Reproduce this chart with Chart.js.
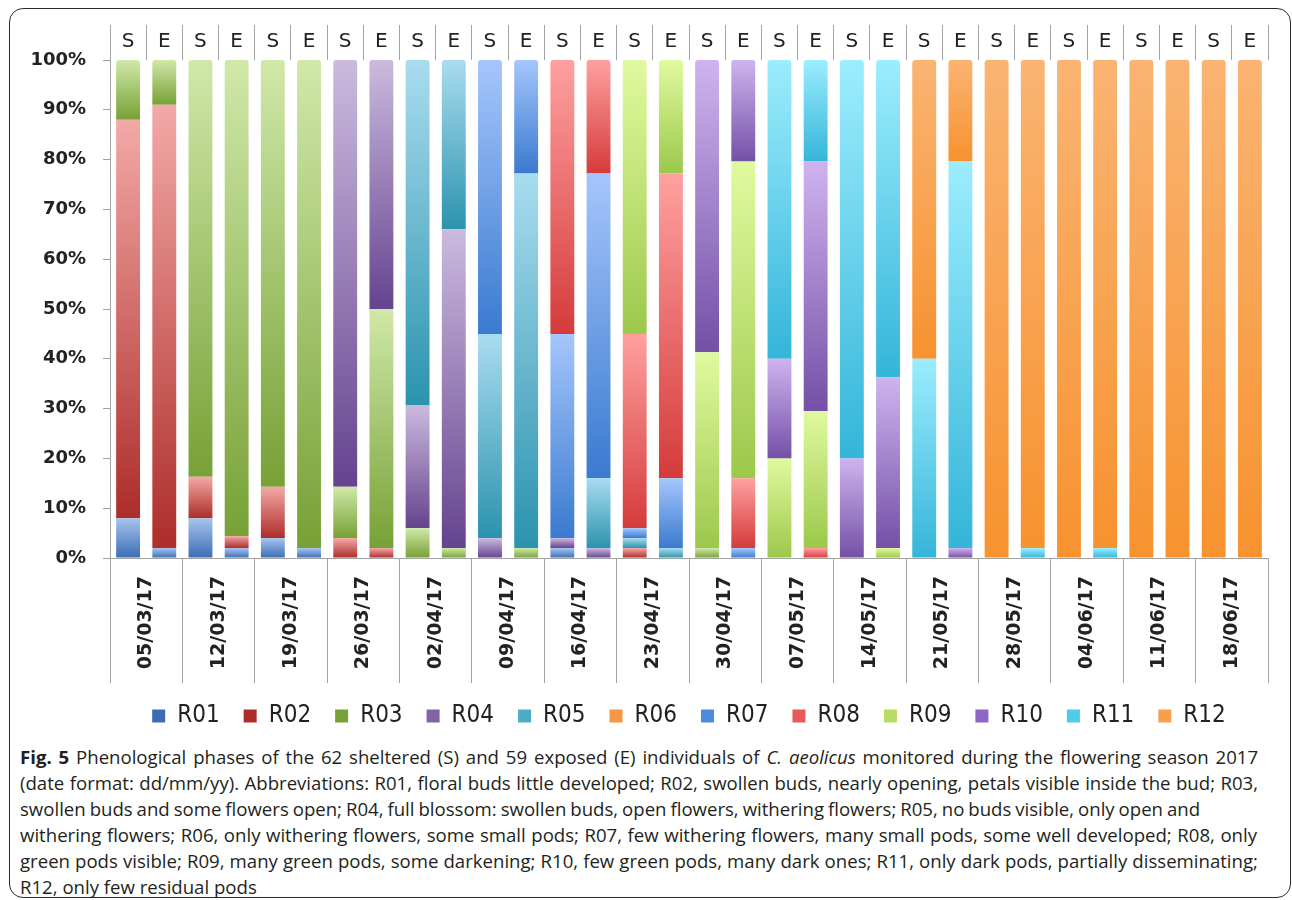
<!DOCTYPE html>
<html>
<head>
<meta charset="utf-8">
<script src="https://cdn.jsdelivr.net/npm/chart.js@4.4.0/dist/chart.umd.min.js"></script>
<style>
  html, body { margin: 0; padding: 0; background: #fff; }
  body { width: 1292px; height: 900px; position: relative; overflow: hidden; }
  #frame { position: absolute; left: 9px; top: 8px; width: 1282px; height: 890px;
           border: 1.5px solid #2a2a2a; border-radius: 14px; box-sizing: border-box; }
  #wrap { position: absolute; left: 0; top: 0; width: 1292px; height: 738px; }
  #caption { position: absolute; left: 20px; top: 744px; font-family: 'Open Sans', 'Noto Sans', sans-serif;
             font-size: 18.6px; line-height: 26px; color: #231f20; white-space: nowrap; }
  #caption b { font-weight: 700; }
  #caption span { display: inline-block; }
</style>
</head>
<body>
<div id="frame"></div>
<div id="wrap"><canvas id="c"></canvas></div>
<div id="caption">
  <div><span><b>Fig. 5</b> Phenological phases of the 62 sheltered (S) and 59 exposed (E) individuals of <i>C. aeolicus</i> monitored during the flowering season 2017</span></div>
  <div><span>(date format: dd/mm/yy). Abbreviations: R01, floral buds little developed; R02, swollen buds, nearly opening, petals visible inside the bud; R03,</span></div>
  <div><span>swollen buds and some flowers open; R04, full blossom: swollen buds, open flowers, withering flowers; R05, no buds visible, only open and</span></div>
  <div><span>withering flowers; R06, only withering flowers, some small pods; R07, few withering flowers, many small pods, some well developed; R08, only</span></div>
  <div><span>green pods visible; R09, many green pods, some darkening; R10, few green pods, many dark ones; R11, only dark pods, partially disseminating;</span></div>
  <div><span>R12, only few residual pods</span></div>
</div>
<script>
// Survey dates (dd/mm/yy); each date has a sheltered (S) and an exposed (E) bar
const dates = ['05/03/17', '12/03/17', '19/03/17', '26/03/17', '02/04/17', '09/04/17', '16/04/17', '23/04/17',
               '30/04/17', '07/05/17', '14/05/17', '21/05/17', '28/05/17', '04/06/17', '11/06/17', '18/06/17'];
const groups = ['S', 'E'];
const barLabels = dates.flatMap(() => groups);

const seriesNames = ['R01', 'R02', 'R03', 'R04', 'R05', 'R06', 'R07', 'R08', 'R09', 'R10', 'R11', 'R12'];

// Share of individuals (%) in each phenological phase, bars in S,E order per date
const R01 = [8, 2,  8, 2,  4, 2,  0, 0,  0, 0,  0, 0,  2, 0,  0, 0,  0, 0,  0, 0,  0, 0,  0, 0,  0, 0,  0, 0,  0, 0,  0, 0];
const R02 = [80, 89,  8.3, 2.4,  10.3, 0,  4, 2,  0, 0,  0, 0,  0, 0,  2, 0,  0, 0,  0, 0,  0, 0,  0, 0,  0, 0,  0, 0,  0, 0,  0, 0];
const R03 = [12, 9,  83.7, 95.6,  85.7, 98,  10.3, 48,  6, 2,  0, 2,  0, 0,  0, 0,  2, 0,  0, 0,  0, 0,  0, 0,  0, 0,  0, 0,  0, 0,  0, 0];
const R04 = [0, 0,  0, 0,  0, 0,  85.7, 50,  24.6, 64,  4, 0,  2, 2,  0, 0,  0, 0,  0, 0,  0, 0,  0, 0,  0, 0,  0, 0,  0, 0,  0, 0];
const R05 = [0, 0,  0, 0,  0, 0,  0, 0,  69.4, 34,  41, 75.2,  0, 14,  2, 2,  0, 0,  0, 0,  0, 0,  0, 0,  0, 0,  0, 0,  0, 0,  0, 0];
const R06 = [0, 0,  0, 0,  0, 0,  0, 0,  0, 0,  0, 0,  0, 0,  0, 0,  0, 0,  0, 0,  0, 0,  0, 0,  0, 0,  0, 0,  0, 0,  0, 0];
const R07 = [0, 0,  0, 0,  0, 0,  0, 0,  0, 0,  55, 22.8,  41, 61.2,  2, 14,  0, 2,  0, 0,  0, 0,  0, 0,  0, 0,  0, 0,  0, 0,  0, 0];
const R08 = [0, 0,  0, 0,  0, 0,  0, 0,  0, 0,  0, 0,  55, 22.8,  39, 61.2,  0, 14,  0, 2,  0, 0,  0, 0,  0, 0,  0, 0,  0, 0,  0, 0];
const R09 = [0, 0,  0, 0,  0, 0,  0, 0,  0, 0,  0, 0,  0, 0,  55, 22.8,  39.3, 63.6,  20, 27.5,  0, 2,  0, 0,  0, 0,  0, 0,  0, 0,  0, 0];
const R10 = [0, 0,  0, 0,  0, 0,  0, 0,  0, 0,  0, 0,  0, 0,  0, 0,  58.7, 20.4,  20, 50.1,  20, 34.3,  0, 2,  0, 0,  0, 0,  0, 0,  0, 0];
const R11 = [0, 0,  0, 0,  0, 0,  0, 0,  0, 0,  0, 0,  0, 0,  0, 0,  0, 0,  60, 20.4,  80, 63.7,  40, 77.6,  0, 2,  0, 2,  0, 0,  0, 0];
const R12 = [0, 0,  0, 0,  0, 0,  0, 0,  0, 0,  0, 0,  0, 0,  0, 0,  0, 0,  0, 0,  0, 0,  60, 20.4,  100, 98,  100, 98,  100, 100,  100, 100];

const series = [R01, R02, R03, R04, R05, R06, R07, R08, R09, R10, R11, R12];

// y-axis tick values (%)
const yTicks = [0, 10, 20, 30, 40, 50, 60, 70, 80, 90, 100];

// Fill colours: top of each segment (light), bottom (dark), legend swatch
const lightColors  = ['#a7c4ee', '#f3a9a7', '#d0e8a9', '#cbbade', '#a9dcef', '#fbc08c',
                      '#a5c6fb', '#ffa0a0', '#e0fa9f', '#cfb3ef', '#9cedfd', '#fab472'];
const darkColors   = ['#3b6db5', '#ad2d2a', '#77a136', '#65438f', '#2b93ae', '#f28a2c',
                      '#3a7ad0', '#d53b3b', '#9cc84b', '#7450a6', '#34b5d9', '#f7922f'];
const legendColors = ['#4f80c0', '#c0504d', '#9bbb59', '#8064a2', '#4bacc6', '#f79646',
                      '#4d8ae0', '#e85a5a', '#b9de66', '#8c66c6', '#4dcbea', '#f89f4c'];

// Vertical light-to-dark gradient spanning each stacked segment
function segmentFill(ctx) {
  const i = ctx.datasetIndex;
  if (ctx.type !== 'data') return legendColors[i];
  const chart = ctx.chart;
  const y = chart.scales.y;
  if (!chart.chartArea || !y) return legendColors[i];
  const k = ctx.dataIndex;
  let base = 0;
  for (let j = 0; j < i; j++) base += series[j][k];
  const v = series[i][k];
  const yTop = y.getPixelForValue(base + v);
  const yBot = y.getPixelForValue(base);
  if (!(yBot - yTop > 0.5)) return legendColors[i];
  const g = chart.ctx.createLinearGradient(0, yTop, 0, yBot);
  g.addColorStop(0, lightColors[i]);
  g.addColorStop(1, darkColors[i]);
  return g;
}

const axisGray = '#a3a3a3';
const textColor = '#222222';

new Chart(document.getElementById('c'), {
  type: 'bar',
  data: {
    labels: barLabels,
    datasets: seriesNames.map((name, i) => ({
      label: name,
      data: series[i],
      xAxisID: 'x',
      yAxisID: 'y',
      backgroundColor: segmentFill,
      borderWidth: 0,
      borderRadius: 3,
      barPercentage: 0.66,
      categoryPercentage: 1.0
    }))
  },
  options: {
    responsive: true,
    maintainAspectRatio: false,
    animation: false,
    layout: { padding: { left: 10, right: 24, top: 25, bottom: 0 } },
    plugins: {
      legend: {
        position: 'bottom',
        fullSize: false,
        labels: {
          boxWidth: 13,
          boxHeight: 13,
          padding: 24,
          color: textColor,
          font: { family: "'Liberation Sans Narrow', 'DejaVu Sans Condensed', 'Liberation Sans', sans-serif", size: 24 }
        }
      },
      tooltip: { enabled: false }
    },
    scales: {
      x: {
        type: 'category',
        position: 'top',
        stacked: true,
        offset: true,
        grid: { offset: true, drawOnChartArea: false, tickLength: 35, color: axisGray },
        border: { display: false },
        ticks: { padding: -29, maxRotation: 0, autoSkip: false, color: textColor,
                 font: { family: "'DejaVu Sans', sans-serif", size: 20 } },
        afterFit: s => { s.height = 35; }
      },
      xd: {
        type: 'category',
        labels: dates,
        position: 'bottom',
        offset: true,
        grid: { offset: true, drawOnChartArea: false, tickLength: 125, color: axisGray },
        border: { display: true, color: axisGray },
        ticks: { padding: -107, minRotation: 90, maxRotation: 90, autoSkip: false, color: textColor,
                 font: { family: "'DejaVu Sans', sans-serif", size: 19, weight: 'bold' } },
        afterFit: s => { s.height = 122; }
      },
      y: {
        stacked: true,
        min: 0,
        max: 100,
        afterBuildTicks: s => { s.ticks = yTicks.map(v => ({ value: v })); },
        ticks: { padding: 17, color: textColor, callback: v => v + '%',
                 font: { family: "'DejaVu Sans', sans-serif", size: 18, weight: 'bold' } },
        grid: { drawOnChartArea: false, tickLength: 7, color: axisGray },
        border: { color: axisGray },
        afterFit: s => { s.width = 100; }
      }
    }
  }
});

// Caption: ragged-right lines, each widened through word spacing to its set measure
const lineMeasures = [1238, 1238, 1180, 1237, 1238];
document.querySelectorAll('#caption span').forEach((span, i) => {
  if (i >= lineMeasures.length) return;
  const w = span.getBoundingClientRect().width;
  const gaps = (span.textContent.match(/ /g) || []).length;
  if (gaps > 0) span.style.wordSpacing = ((lineMeasures[i] - w) / gaps).toFixed(2) + 'px';
});
</script>
</body>
</html>
